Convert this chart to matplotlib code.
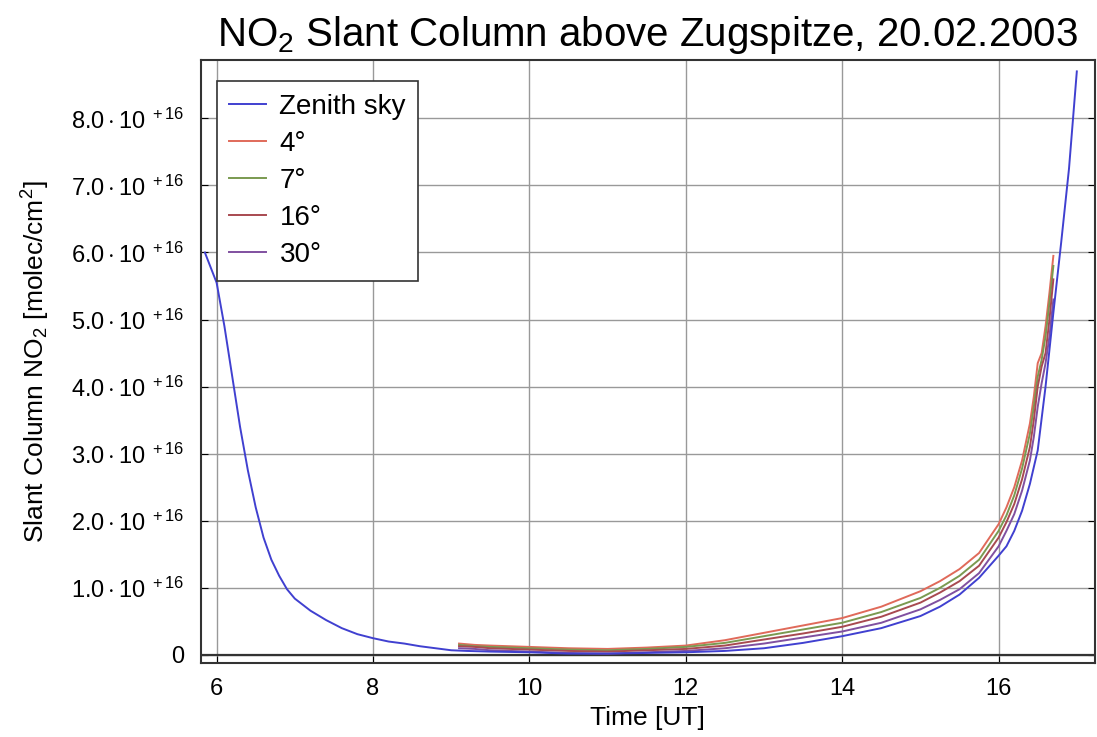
import matplotlib
matplotlib.use('Agg')
import matplotlib.pyplot as plt

plt.rcParams['font.family'] = ['Liberation Sans', 'DejaVu Sans']
plt.rcParams['mathtext.fontset'] = 'custom'
plt.rcParams['mathtext.rm'] = 'Liberation Sans'
plt.rcParams['mathtext.it'] = 'Liberation Sans:italic'
plt.rcParams['mathtext.bf'] = 'Liberation Sans:bold'

# Zenith sky measurements (time in UT, slant column in 1e16 molec/cm2)
t_zenith = [5.85, 6.00, 6.10, 6.20, 6.30, 6.40, 6.50, 6.60, 6.70, 6.80,
            6.90, 7.00, 7.20, 7.40, 7.60, 7.80, 8.00, 8.20, 8.40, 8.60, 8.80,
            9.00, 9.20, 9.50, 10.0, 10.5, 11.0, 11.5, 12.0, 12.5, 13.0, 13.5,
            14.0, 14.5, 15.0, 15.25, 15.5, 15.75, 16.0, 16.1, 16.2, 16.3, 16.4,
            16.5, 16.6, 16.7, 16.8, 16.9, 17.0]
v_zenith = [6.00, 5.55, 4.90, 4.15, 3.40, 2.75, 2.20, 1.75, 1.42, 1.18,
            0.98, 0.84, 0.66, 0.52, 0.40, 0.31, 0.25, 0.20, 0.17, 0.13, 0.10,
            0.07, 0.06, 0.05, 0.04, 0.02, 0.02, 0.03, 0.04, 0.06, 0.10, 0.18,
            0.28, 0.40, 0.58, 0.72, 0.90, 1.15, 1.48, 1.62, 1.85, 2.15, 2.55,
            3.05, 4.00, 5.10, 6.15, 7.25, 8.70]

# Off-axis elevation angles
t_off = [9.1, 9.3, 9.5, 10.0, 10.5, 11.0, 11.5, 12.0, 12.5, 13.0, 13.5, 14.0,
         14.5, 15.0, 15.25, 15.5, 15.75, 16.0, 16.1, 16.2, 16.3, 16.4, 16.45,
         16.5, 16.55, 16.6, 16.65, 16.7]
v_4 = [0.17, 0.15, 0.14, 0.12, 0.10, 0.09, 0.11, 0.14, 0.22, 0.33, 0.44, 0.55,
       0.72, 0.95, 1.10, 1.28, 1.52, 1.95, 2.20, 2.50, 2.90, 3.45, 3.85, 4.35,
       4.50, 4.90, 5.40, 5.95]
v_7 = [0.15, 0.13, 0.12, 0.10, 0.08, 0.07, 0.09, 0.12, 0.18, 0.28, 0.38, 0.48,
       0.64, 0.85, 1.00, 1.18, 1.42, 1.85, 2.08, 2.38, 2.78, 3.30, 3.70, 4.15,
       4.40, 4.75, 5.25, 5.80]
v_16 = [0.13, 0.12, 0.10, 0.08, 0.06, 0.05, 0.07, 0.09, 0.14, 0.23, 0.32, 0.42,
        0.57, 0.78, 0.93, 1.10, 1.33, 1.75, 1.98, 2.25, 2.62, 3.10, 3.50, 4.00,
        4.30, 4.50, 5.00, 5.60]
v_30 = [0.10, 0.09, 0.07, 0.05, 0.03, 0.02, 0.04, 0.06, 0.10, 0.17, 0.26, 0.35,
        0.48, 0.68, 0.82, 0.98, 1.22, 1.62, 1.85, 2.10, 2.45, 2.90, 3.25, 3.70,
        4.05, 4.35, 4.75, 5.30]

x_ticks = [6, 8, 10, 12, 14, 16]
y_ticks = [0, 1, 2, 3, 4, 5, 6, 7, 8]
y_labels = ['0'] + [r'$\mathrm{%d.0\cdot10}^{\ +16}$' % k for k in range(1, 9)]

fig = plt.figure(figsize=(10.97, 7.37), dpi=100)
ax = fig.add_axes([0.1832, 0.1004, 0.8148, 0.8182])

ax.plot(t_zenith, v_zenith, color='#4040d0', lw=1.4, label='Zenith sky', zorder=5)
ax.plot(t_off, v_4, color='#e06a5a', lw=1.4, label='4°', zorder=4)
ax.plot(t_off, v_7, color='#7a9a50', lw=1.4, label='7°', zorder=4)
ax.plot(t_off, v_16, color='#a84a50', lw=1.4, label='16°', zorder=4)
ax.plot(t_off, v_30, color='#8050a0', lw=1.4, label='30°', zorder=4)

ax.axhline(0, color='#333333', lw=1.6, zorder=3)

ax.set_xlim(5.80, 17.23)
ax.set_ylim(-0.12, 8.87)
ax.set_xticks(x_ticks)
ax.set_yticks(y_ticks)
ax.set_yticklabels(y_labels)
ax.tick_params(direction='in', length=5, labelsize=17, top=False, right=True)
ax.tick_params(axis='y', pad=12)
ax.tick_params(axis='x', pad=11)
ax.grid(True, color='#999999', lw=1.0)
ax.set_axisbelow(True)
for s in ax.spines.values():
    s.set_linewidth(1.5)
    s.set_color('#333333')

ax.set_title(r'NO$_2$ Slant Column above Zugspitze, 20.02.2003', fontsize=29, pad=10)
ax.set_xlabel('Time [UT]', fontsize=19, labelpad=4)
ax.set_ylabel(r'Slant Column NO$_2$ [molec/cm$^2$]', fontsize=19, labelpad=14)

leg = ax.legend(loc='upper left', bbox_to_anchor=(0.0179, 0.965), borderaxespad=0,
                fontsize=20, handlelength=1.3, handletextpad=0.5, labelspacing=0.40,
                borderpad=0.45, fancybox=False, framealpha=1, edgecolor='#333333')
leg.get_frame().set_linewidth(1.2)

fig.savefig('out.png', dpi=100)
